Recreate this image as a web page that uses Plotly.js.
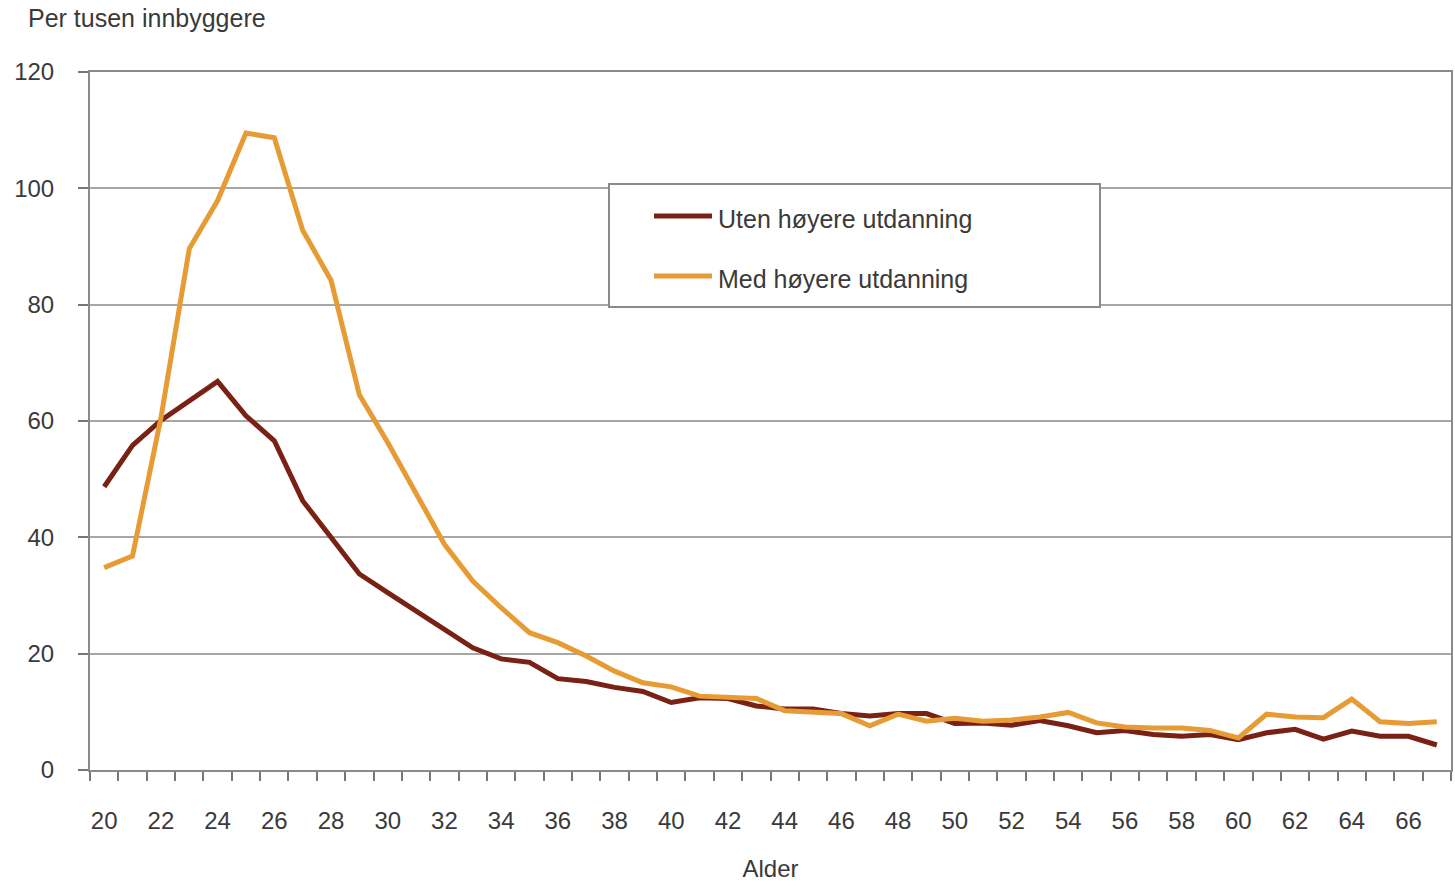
<!DOCTYPE html>
<html>
<head>
<meta charset="utf-8">
<script src="https://cdn.plot.ly/plotly-3.0.1.min.js"></script>
<style>html,body{margin:0;padding:0;background:#fff;}#chart{width:1455px;height:882px;}</style>
</head>
<body>
<div id="chart"></div>
<script>
// ---- data ----
const ages = [20,21,22,23,24,25,26,27,28,29,30,31,32,33,34,35,36,37,38,39,40,41,42,43,44,45,46,47,48,49,50,51,52,53,54,55,56,57,58,59,60,61,62,63,64,65,66,67];
const utenHoyere = [48.7,55.8,60.1,63.4,66.8,60.9,56.6,46.3,39.9,33.7,30.5,27.3,24.1,21.0,19.1,18.5,15.7,15.2,14.2,13.5,11.6,12.4,12.3,11.0,10.5,10.5,9.7,9.3,9.7,9.7,8.0,8.1,7.7,8.5,7.6,6.4,6.8,6.1,5.8,6.1,5.2,6.4,7.0,5.3,6.7,5.8,5.8,4.3];
const medHoyere = [34.8,36.8,60.5,89.6,97.9,109.5,108.7,92.8,84.2,64.5,56.3,47.5,38.8,32.5,27.9,23.6,21.9,19.6,17.0,15.0,14.3,12.7,12.4,12.3,10.2,9.9,9.7,7.6,9.6,8.4,8.9,8.4,8.6,9.1,9.9,8.1,7.4,7.2,7.2,6.8,5.5,9.6,9.1,9.0,12.2,8.3,8.0,8.3];
const seriesNames = ["Uten høyere utdanning", "Med høyere utdanning"];
const xTickVals = [20,22,24,26,28,30,32,34,36,38,40,42,44,46,48,50,52,54,56,58,60,62,64,66];
const xTickText = xTickVals.map(String);
const yTitle = "Per tusen innbyggere";
const xTitle = "Alder";

// ---- styling ----
const colors = ["#7a2115", "#e69b35"];
const font = "Liberation Sans, Arial, Helvetica, sans-serif";
const textColor = "#3a3a3a";
const W = 1455, H = 882;
const M = {l: 90, r: 4, t: 72, b: 112};
const pw = W - M.l - M.r, ph = H - M.t - M.b;
const px = x => (x - M.l) / pw;
const py = y => (H - M.b - y) / ph;

const traces = [
  {x: ages, y: utenHoyere, name: seriesNames[0], type: "scatter", mode: "lines",
   line: {color: colors[0], width: 5}, showlegend: false},
  {x: ages, y: medHoyere, name: seriesNames[1], type: "scatter", mode: "lines",
   line: {color: colors[1], width: 5}, showlegend: false}
];

const legendRows = [216, 276];
const shapes = [
  {type: "rect", xref: "paper", yref: "paper", x0: px(609), x1: px(1100), y0: py(184), y1: py(307),
   line: {color: "#8a8a8a", width: 2}, fillcolor: "#ffffff", layer: "above"},
];
const annotations = [
  {text: yTitle, xref: "paper", yref: "paper", x: px(26), y: py(18), xanchor: "left", yanchor: "middle",
   showarrow: false, font: {family: font, size: 25, color: textColor}}
];
seriesNames.forEach((n, i) => {
  shapes.push({type: "line", xref: "paper", yref: "paper", x0: px(654), x1: px(712),
    y0: py(legendRows[i]), y1: py(legendRows[i]), line: {color: colors[i], width: 5}, layer: "above"});
  annotations.push({text: n, xref: "paper", yref: "paper", x: px(716), y: py(legendRows[i] + 3),
    xanchor: "left", yanchor: "middle", showarrow: false,
    font: {family: font, size: 25, color: textColor}});
});

const layout = {
  width: W, height: H,
  margin: M,
  paper_bgcolor: "#ffffff", plot_bgcolor: "#ffffff",
  font: {family: font, size: 24, color: textColor},
  showlegend: false,
  xaxis: {
    range: [19.5, 67.5], tickvals: xTickVals, ticktext: xTickText,
    ticks: "", ticklabelstandoff: 28, showgrid: false, zeroline: false,
    showline: true, linecolor: "#8a8a8a", linewidth: 2, mirror: true,
    minor: {tick0: 19.5, dtick: 1, ticks: "outside", ticklen: 9, tickwidth: 2, tickcolor: "#777", showgrid: false},
    tickfont: {family: font, size: 24, color: textColor},
    title: {text: xTitle, font: {family: font, size: 24, color: textColor}, standoff: 28}
  },
  yaxis: {
    range: [0, 120], dtick: 20, tick0: 0,
    ticks: "outside", ticklen: 10, tickwidth: 2, tickcolor: "#777",
    ticklabelstandoff: 19,
    showgrid: true, gridcolor: "#a6a6a6", gridwidth: 2, zeroline: false,
    showline: true, linecolor: "#8a8a8a", linewidth: 2, mirror: true,
    tickfont: {family: font, size: 24, color: textColor}
  },
  shapes: shapes,
  annotations: annotations
};

Plotly.newPlot("chart", traces, layout, {displayModeBar: false, staticPlot: true});
</script>
</body>
</html>
